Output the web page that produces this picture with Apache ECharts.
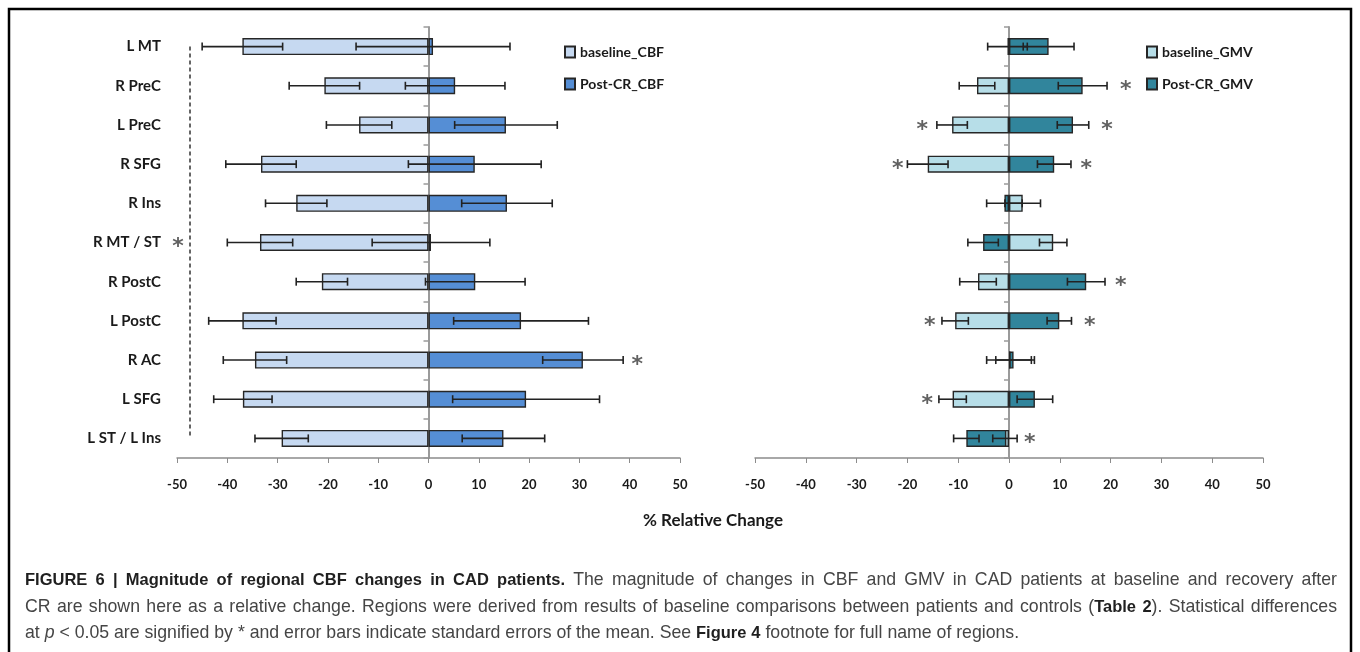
<!DOCTYPE html>
<html>
<head>
<meta charset="utf-8">
<script src="https://cdn.jsdelivr.net/npm/echarts@6/dist/echarts.min.js"></script>
<style>
html,body{margin:0;padding:0;background:#fff;}
#chart{width:1360px;height:652px;}
</style>
</head>
<body>
<div id="chart"></div>
<script>
// ---------- data ----------
var categories = ['L MT','R PreC','L PreC','R SFG','R Ins','R MT / ST','R PostC','L PostC','R AC','L SFG','L ST / L Ins'];
var xTicks = [-50,-40,-30,-20,-10,0,10,20,30,40,50];

var baselineCBF    = [-37.0,-20.7,-13.8,-33.3,-26.3,-33.5,-21.2,-37.0,-34.5,-36.9,-29.2];
var baselineCBFErr = [  8.0,  7.0,  6.5,  7.0,  6.1,  6.5,  5.1,  6.7,  6.3,  5.8,  5.3];
var postCBF        = [  0.9,  5.3, 15.4,  9.2, 15.6,  0.5,  9.3, 18.4, 30.7, 19.4, 14.9];
var postCBFErr     = [ 15.3,  9.9, 10.2, 13.2,  9.0, 11.7,  9.9, 13.4,  8.0, 14.6,  8.2];

var baselineGMV    = [ -0.3, -6.3,-11.2,-16.0,  2.7,  8.7, -6.1,-10.6,  0.3,-11.1, -0.8];
var baselineGMVErr = [  3.9,  3.5,  3.0,  4.0,  3.5,  2.7,  3.6,  2.6,  4.7,  2.7,  2.4];
var postGMV        = [  7.8, 14.5, 12.6,  8.9, -0.9, -5.1, 15.2,  9.9,  0.9,  5.1, -8.4];
var postGMVErr     = [  5.0,  4.8,  3.1,  3.3,  3.5,  3.0,  3.7,  2.4,  3.5,  3.5,  2.5];

// significance markers: [x position, category]
var starsCBF = [[-49.8,'R MT / ST'],[41.5,'R AC']];
var starsGMV = [[23.0,'R PreC'],[-17.1,'L PreC'],[19.3,'L PreC'],[-21.9,'R SFG'],[15.2,'R SFG'],
                [22.0,'R PostC'],[-15.6,'L PostC'],[15.9,'L PostC'],[-16.1,'L SFG'],[4.1,'L ST / L Ins']];

// caption lines: runs of [style, text]; b = bold, n = normal, i = italic
var captionLine1 = [['b','FIGURE 6 | Magnitude of regional CBF changes in CAD patients.'],
                    ['n',' The magnitude of changes in CBF and GMV in CAD patients at baseline and recovery after']];
var captionLine2 = [['n','CR are shown here as a relative change. Regions were derived from results of baseline comparisons between patients and controls ('],
                    ['b','Table 2'],['n','). Statistical differences']];
var captionLine3 = [['n','at '],['i','p'],['n',' < 0.05 are signified by * and error bars indicate standard errors of the mean. See '],
                    ['b','Figure 4'],['n',' footnote for full name of regions.']];

// ---------- helpers ----------
var FONT = 'Lato, "Open Sans", sans-serif';
var CAPFONT = {
  n:{fontStyle:'normal', fontWeight:'normal', fontSize:17.7, fontFamily:'"Liberation Sans"', fill:'#454545'},
  i:{fontStyle:'italic', fontWeight:'normal', fontSize:17.7, fontFamily:'"Liberation Sans"', fill:'#454545'},
  b:{fontStyle:'normal', fontWeight:'bold', fontSize:16.5, fontFamily:'"Liberation Sans"', fill:'#1f1f1f'}
};
var measureCtx = document.createElement('canvas').getContext('2d');
function fontStr(s){ return s.fontStyle + ' ' + s.fontWeight + ' ' + s.fontSize + 'px ' + s.fontFamily; }
function measure(style, txt){ measureCtx.font = fontStr(CAPFONT[style]); return measureCtx.measureText(txt).width; }
function toWords(runs){
  var words = [[]];
  runs.forEach(function(r){
    r[1].split(' ').forEach(function(p, k){
      if (k > 0) words.push([]);
      if (p) words[words.length-1].push([r[0], p]);
    });
  });
  return words.filter(function(w){ return w.length; });
}
function captionElements(runs, x0, y, justifyWidth){
  var words = toWords(runs);
  var widths = words.map(function(w){ return w.reduce(function(s,p){ return s + measure(p[0], p[1]); }, 0); });
  var total = widths.reduce(function(a,b){ return a+b; }, 0);
  var gap = justifyWidth ? (justifyWidth - total) / (words.length - 1) : measure('n', ' ');
  var els = [], x = x0;
  words.forEach(function(w, wi){
    var px = x;
    w.forEach(function(p){
      var s = CAPFONT[p[0]];
      els.push({type:'text', x:px, y:y, silent:true, style:{text:p[1], fontStyle:s.fontStyle, fontWeight:s.fontWeight,
        fontSize:s.fontSize, fontFamily:s.fontFamily, fill:s.fill, verticalAlign:'middle', align:'left'}});
      px += measure(p[0], p[1]);
    });
    x += widths[wi] + gap;
  });
  return els;
}
function errData(vals, errs){
  return vals.map(function(v,i){ return [i, v - errs[i], v + errs[i]]; });
}
function errRender(params, api){
  var yi = api.value(0);
  var lo = api.coord([api.value(1), yi]);
  var hi = api.coord([api.value(2), yi]);
  var h = 4;
  var st = {stroke:'#222', lineWidth:1.6};
  return {type:'group', children:[
    {type:'line', shape:{x1:lo[0],y1:lo[1],x2:hi[0],y2:hi[1]}, style:st},
    {type:'line', shape:{x1:lo[0],y1:lo[1]-h,x2:lo[0],y2:lo[1]+h}, style:st},
    {type:'line', shape:{x1:hi[0],y1:hi[1]-h,x2:hi[0],y2:hi[1]+h}, style:st}
  ]};
}
function starData(list){
  return list.map(function(s){ return [s[0], categories.indexOf(s[1])]; });
}
function xAxisCfg(gi){
  return {
    type:'value', gridIndex:gi, min:-50, max:50, interval:10,
    axisLine:{show:true, onZero:false, lineStyle:{color:'#8c8c8c', width:1.5}},
    axisTick:{show:true, length:5, lineStyle:{color:'#8c8c8c', width:1}},
    splitLine:{show:false},
    axisLabel:{margin:20, fontSize:13, fontWeight:'bold', color:'#1a1a1a', fontFamily:FONT,
      formatter:function(v){ return xTicks.indexOf(v) >= 0 ? String(v) : ''; }}
  };
}
function zeroYAxis(gi){
  return {
    type:'category', gridIndex:gi, data:categories, inverse:true,
    axisLine:{show:true, onZero:true, lineStyle:{color:'#9a9a9a', width:2}},
    axisTick:{show:true, length:5, lineStyle:{color:'#9a9a9a', width:1.5}},
    axisLabel:{show:false}, splitLine:{show:false}
  };
}
function barSeries(name, data, color, xi, z){
  return {
    name:name, type:'bar', xAxisIndex:xi, yAxisIndex:(xi===0?0:2), data:data,
    barWidth:17, barGap:'-100%', z:z,
    itemStyle:{color:color, borderColor:'#262626', borderWidth:1.4},
    emphasis:{disabled:true}
  };
}
function errSeries(vals, errs, xi){
  return {
    type:'custom', xAxisIndex:xi, yAxisIndex:(xi===0?0:2), z:10,
    renderItem:errRender, encode:{x:[1,2], y:0}, data:errData(vals, errs), silent:true
  };
}
function starSeries(list, xi){
  return {
    type:'scatter', xAxisIndex:xi, yAxisIndex:(xi===0?0:2), z:11, silent:true,
    symbol:'circle', symbolSize:1, itemStyle:{color:'rgba(0,0,0,0)'},
    label:{show:true, position:'inside', formatter:'*', fontSize:22, fontWeight:'bold',
      color:'#3a3a3a', fontFamily:'"DejaVu Sans", sans-serif', offset:[0,5]},
    emphasis:{disabled:true},
    data:starData(list)
  };
}

var chart = echarts.init(document.getElementById('chart'), null, {renderer:'canvas'});

var legendText = {fontSize:14, fontWeight:'bold', color:'#1a1a1a', fontFamily:FONT};

var stars0 = starSeries(starsCBF, 0);
stars0.markLine = {
  silent:true, symbol:'none', label:{show:false},
  lineStyle:{color:'#333', width:1.5, type:[4,3]},
  data:[[{coord:[-47.5, 0.15]}, {coord:[-47.5, 9.75]}]]
};

var graphics = [
  {type:'rect', shape:{x:9, y:9, width:1342, height:680}, style:{fill:'none', stroke:'#000', lineWidth:2.5}, silent:true},
  {type:'text', x:713, y:521, style:{text:'% Relative Change', fontSize:17, fontWeight:'bold',
    fill:'#1a1a1a', fontFamily:FONT, align:'center', verticalAlign:'middle'}}
].concat(captionElements(captionLine1, 25, 580, 1312))
 .concat(captionElements(captionLine2, 25, 607, 1312))
 .concat(captionElements(captionLine3, 25, 633, 0));

chart.setOption({
  animation:false,
  grid:[
    {left:177, top:27, width:503, height:431},
    {left:755, top:27, width:508, height:431}
  ],
  xAxis:[xAxisCfg(0), xAxisCfg(1)],
  yAxis:[
    zeroYAxis(0),
    {
      type:'category', gridIndex:0, data:categories, inverse:true, position:'left',
      axisLine:{show:false, onZero:false}, axisTick:{show:false}, splitLine:{show:false},
      axisLabel:{margin:16, fontSize:15, fontWeight:'bold', color:'#1a1a1a', fontFamily:FONT}
    },
    zeroYAxis(1)
  ],
  legend:[
    {data:['baseline_CBF','Post-CR_CBF'], orient:'vertical', left:559, top:40, itemWidth:10, itemHeight:11,
     itemGap:18, textStyle:legendText, icon:'rect', selectedMode:false},
    {data:['baseline_GMV','Post-CR_GMV'], orient:'vertical', left:1141, top:40, itemWidth:10, itemHeight:11,
     itemGap:18, textStyle:legendText, icon:'rect', selectedMode:false}
  ],
  series:[
    barSeries('baseline_CBF', baselineCBF, '#c6d9f1', 0, 3),
    barSeries('Post-CR_CBF', postCBF, '#558ed5', 0, 2),
    errSeries(baselineCBF, baselineCBFErr, 0),
    errSeries(postCBF, postCBFErr, 0),
    stars0,
    barSeries('baseline_GMV', baselineGMV, '#b7dee8', 1, 3),
    barSeries('Post-CR_GMV', postGMV, '#31859c', 1, 2),
    errSeries(baselineGMV, baselineGMVErr, 1),
    errSeries(postGMV, postGMVErr, 1),
    starSeries(starsGMV, 1)
  ],
  graphic:graphics
});
</script>
</body>
</html>
